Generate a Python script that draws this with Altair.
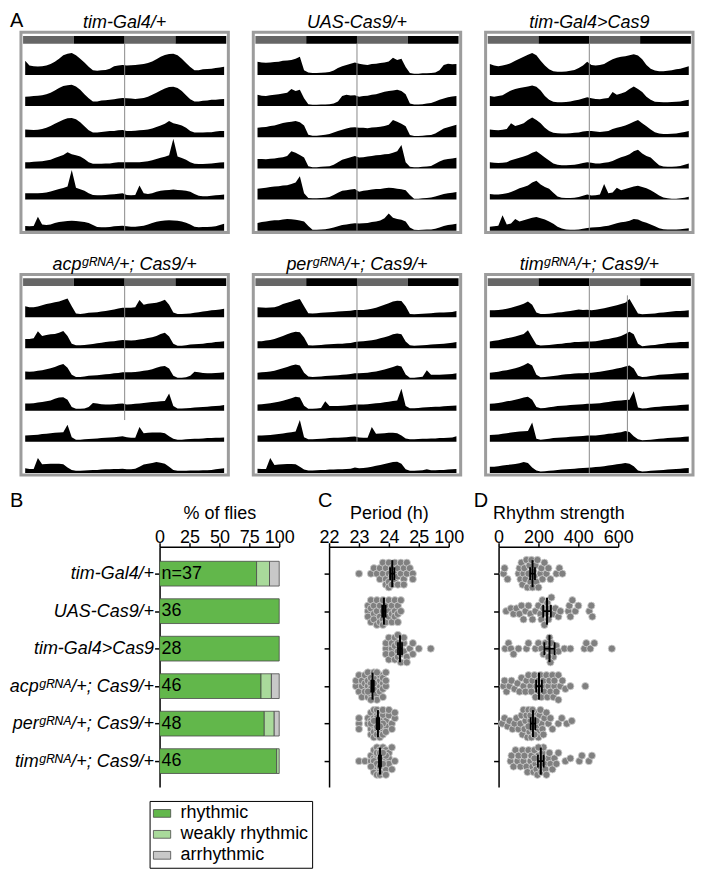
import json
import math
import pandas as pd
import altair as alt

FONT = "Liberation Sans"
SUP = "\u1d4d\u1d3f\u1d3a\u1d2c"  # superscript gRNA

genotypes = [
    "tim-Gal4/+",
    "UAS-Cas9/+",
    "tim-Gal4>Cas9",
    "acp" + SUP + "/+; Cas9/+",
    "per" + SUP + "/+; Cas9/+",
    "tim" + SUP + "/+; Cas9/+",
]

# ---------------- actogram activity (7 days x 24 h, 10 = one row height) ----------------
act_tim_gal4 = [
    [4.5, 3, 2.8, 2.7, 2.8, 3, 3.5, 4.2, 5.2, 6.3, 6.8, 7, 6.3, 5.2, 4, 2.6, 1.5, 1.3, 1.5, 1.6, 2, 2.8, 3, 3.2],
    [3, 3.1, 3.2, 3.3, 3.5, 3.8, 4.3, 5, 5.8, 6.4, 6.7, 6.8, 6.3, 5.2, 3.8, 2.5, 1.5, 1.5, 1.8, 1.9, 2, 2.2, 2.4, 2.6],
    [2.5, 2.4, 2.3, 2.4, 2.6, 3, 3.6, 4.3, 5, 5.6, 6.1, 6.2, 5.8, 4.8, 3.5, 2.2, 1.5, 1.5, 1.7, 1.8, 2, 2, 2.2, 2.3],
    [2, 2, 2.1, 2.2, 2.3, 2.5, 2.8, 3.3, 3.8, 4.3, 5.2, 4.5, 4.2, 3.8, 3, 2, 1.5, 1.5, 1.5, 1.6, 1.6, 1.8, 2, 2],
    [2, 2, 2, 2, 2.1, 2.3, 2.6, 3, 3.4, 3.7, 4.2, 9.5, 3.8, 3.3, 2.8, 2, 1.5, 1.4, 1.4, 1.5, 1.6, 1.7, 1.9, 2],
    [1.5, 1.4, 1.5, 4.5, 2, 1.8, 2, 2.5, 2.8, 3, 3.1, 3.2, 3.1, 3, 2.8, 2.5, 1.8, 1.2, 1.1, 1.1, 1.2, 1.4, 1.5, 1.6],
    [1.4, 1.3, 1.3, 1.4, 1.6, 2, 2.5, 2.9, 3.1, 3.3, 3.4, 3.3, 3.2, 3, 2.6, 2, 1.3, 1.1, 1.2, 1.2, 1.3, 1.4, 1.8, 2.2],
]
act_uas_cas9 = [
    [4.2, 4, 3.9, 4, 4.1, 4.2, 4.5, 4.6, 4.8, 5.2, 5.8, 1.5, 0.8, 0.6, 0.6, 0.7, 0.8, 0.9, 1.4, 2.2, 2.8, 3.2, 3.6, 4],
    [3.6, 3.3, 3.2, 3.5, 3.6, 3.8, 4, 4.3, 5.5, 4.8, 5.2, 2.5, 0.6, 0.4, 0.4, 0.5, 0.5, 0.6, 0.8, 1.5, 3.2, 3.6, 3.4, 3.5],
    [3, 3.2, 3.3, 3.6, 3.8, 4.2, 4.6, 4.8, 5, 5.2, 4.8, 3.8, 0.8, 0.5, 0.5, 0.6, 0.8, 1, 1.5, 2, 2.4, 2.8, 3.1, 3.2],
    [3, 3, 2.9, 3.1, 3.2, 3.4, 3.6, 4, 5.5, 5, 4.3, 3.5, 0.7, 0.4, 0.4, 0.5, 0.6, 0.7, 1.2, 2, 2.8, 3.2, 3.6, 4],
    [3.5, 3.6, 3.8, 4, 4.2, 4.3, 4.5, 4.6, 5, 5.5, 7.5, 2, 0.5, 0.4, 0.4, 0.5, 0.6, 0.8, 1.5, 2.2, 2.8, 3, 3.2, 3.4],
    [2.5, 2.8, 3, 3.2, 3.4, 3.4, 3.6, 3.8, 3.7, 3.5, 3.3, 3, 1.5, 0.3, 0.3, 0.4, 0.5, 0.7, 1, 1.4, 1.8, 2, 2.2, 2.4],
    [2.3, 2.4, 2.5, 2.8, 3, 3.3, 4, 5.5, 4.2, 3.8, 3.5, 3, 1, 0.3, 0.2, 0.3, 0.4, 0.4, 0.6, 1, 1.5, 1.8, 2, 2.2],
]
act_tim_gal4_cas9 = [
    [3.5, 3, 2.8, 3, 3.3, 3.8, 4.5, 5.2, 5.8, 6.5, 7, 6.3, 4.5, 3, 1.8, 1.2, 1, 1, 1.1, 1.3, 1.6, 2.2, 3, 4.2],
    [3.2, 3, 3.2, 3.5, 4.3, 5, 5.5, 5.8, 6, 6.3, 6.6, 6.2, 5, 3.2, 2, 1.4, 1.2, 1.2, 1.3, 1.5, 1.8, 2, 2.4, 2.8],
    [2.5, 2.3, 2.2, 2.4, 2.6, 4.5, 3.6, 4, 4.5, 5.5, 6.3, 5.5, 4.5, 3, 2, 1.4, 1.3, 1.2, 1.2, 1.3, 1.4, 1.5, 1.8, 2],
    [2, 1.8, 1.7, 1.8, 2, 2.6, 3, 3.4, 3.8, 4.3, 5, 5.5, 4.5, 3.5, 2.5, 1.6, 1.2, 1, 1, 1.1, 1.2, 1.4, 1.7, 2],
    [1.8, 1.6, 1.6, 1.8, 2, 2.4, 3, 3.6, 4, 4.5, 5.5, 6, 4.8, 4, 3.5, 2.2, 1, 0.6, 0.5, 0.5, 0.6, 0.8, 1.2, 1.6],
    [1.3, 1.4, 1.6, 5, 2, 2.3, 3.8, 3, 3.4, 3.8, 4.2, 4.4, 4, 3.6, 3, 2.2, 1.3, 0.7, 0.4, 0.3, 0.3, 0.4, 0.6, 0.9],
    [1, 1.1, 1.2, 1.4, 1.6, 2, 2.4, 2.7, 2.9, 3.2, 3.8, 3.6, 3, 2.6, 2, 1.4, 0.8, 0.5, 0.4, 0.4, 0.4, 0.5, 0.6, 0.8],
]
act_acp = [
    [3.5, 3.2, 3.2, 3.4, 3.8, 4.2, 4.5, 4.8, 5, 5.5, 6, 3.5, 1.2, 1, 1.2, 1.4, 1.5, 1.6, 1.8, 2, 2.2, 2.5, 2.8, 3],
    [3, 3, 3.2, 5.5, 4, 4.3, 4.5, 4.6, 5, 5.6, 4, 1.5, 1, 1, 1.1, 1.2, 1.4, 1.6, 1.8, 2, 2.2, 2.3, 2.5, 2.7],
    [2.6, 2.5, 2.6, 2.8, 3, 3.3, 3.6, 4, 4.6, 5, 3.8, 1.5, 0.8, 0.8, 1, 1.2, 1.3, 1.4, 1.5, 1.7, 1.8, 2, 2.1, 2.3],
    [2.3, 2.3, 2.4, 2.6, 2.8, 3, 3.3, 3.8, 4.2, 4.3, 3.5, 1.2, 0.6, 0.6, 0.7, 1.2, 2.5, 2.3, 2.1, 2, 2, 2.1, 2.2, 2.3],
    [2, 2.1, 2.2, 2.3, 2.5, 2.6, 2.8, 2.9, 3, 3.1, 5.5, 1.5, 0.7, 0.7, 0.8, 0.9, 1, 1.1, 1.2, 1.3, 1.4, 1.5, 1.6, 1.8],
    [1.5, 1.3, 1.3, 4.8, 2.8, 2.9, 3, 3, 3, 2.8, 1.8, 1, 0.7, 0.7, 0.8, 0.9, 1, 1, 1.1, 1.2, 1.2, 1.3, 1.3, 1.4],
    [1.2, 1.2, 1.4, 2, 2.7, 3, 3.2, 3.5, 3.3, 3, 2, 1, 0.7, 0.7, 0.7, 0.8, 0.8, 0.8, 0.9, 0.9, 1, 1.2, 1.4, 1.5],
]
act_per = [
    [3.2, 3.1, 3, 3.1, 3.2, 3.6, 4.2, 4.6, 5, 5.5, 5.8, 3.5, 1.3, 1.2, 1.3, 1.4, 1.5, 1.6, 1.7, 1.8, 1.9, 2, 2.1, 2.3],
    [2.3, 2.3, 2.5, 2.7, 3, 3.5, 4, 4.5, 5, 5.3, 5.2, 3.5, 1, 0.9, 1, 1.1, 1.2, 1.3, 1.4, 1.5, 1.5, 1.6, 1.7, 2],
    [2.2, 2.3, 2.4, 2.6, 2.8, 3.2, 3.6, 4, 4.5, 4.8, 4.5, 2.2, 1, 0.8, 0.9, 1, 1.1, 1.2, 1.3, 1.4, 1.5, 1.6, 1.8, 2],
    [2, 2.1, 2.2, 2.4, 2.6, 2.9, 3.2, 3.6, 4, 4.5, 4.2, 1.6, 0.6, 0.6, 0.7, 0.9, 3, 1.5, 1.5, 1.5, 1.6, 1.7, 1.8, 2],
    [2, 2, 2.1, 2.2, 2.4, 2.5, 2.7, 2.9, 3.1, 3.3, 7, 1.5, 0.8, 0.8, 0.9, 1, 1.1, 1.2, 1.3, 1.3, 1.4, 1.5, 1.6, 1.7],
    [1.4, 1.3, 1.3, 4.8, 2.6, 2.7, 2.8, 2.9, 2.9, 2.8, 2, 1.1, 0.8, 0.8, 0.9, 1, 1, 1.1, 1.1, 1.2, 1.2, 1.3, 1.4, 1.8],
    [1.5, 1.6, 1.8, 2, 2.3, 2.6, 2.9, 3.2, 3.5, 3.6, 3, 1.2, 0.7, 0.7, 0.8, 0.9, 1.2, 0.9, 0.9, 1, 1, 1.1, 1.2, 1.3],
]
act_tim = [
    [2.2, 2.2, 2.3, 2.5, 2.7, 3, 3.4, 3.8, 4.3, 5, 4, 1.5, 1, 1, 1.1, 1.3, 1.5, 1.6, 1.8, 2, 2.2, 2.5, 2.3, 2.4],
    [2.2, 2.4, 2.6, 2.9, 3.2, 3.5, 3.8, 4.2, 4.6, 5.8, 3.5, 1.2, 0.9, 1, 1.1, 1.2, 1.4, 1.5, 1.7, 1.8, 2, 2, 2.1, 2.2],
    [2.2, 2.3, 2.5, 2.8, 3, 3.3, 3.6, 4, 4.6, 5.3, 4.5, 1.5, 0.7, 0.8, 1, 1.1, 1.3, 1.5, 1.7, 1.8, 1.9, 2, 2, 2.1],
    [2.2, 2.3, 2.5, 2.7, 3, 3.2, 3.5, 3.8, 4.2, 4.5, 3.5, 1.2, 0.8, 0.9, 1.1, 1.3, 1.5, 1.6, 1.7, 1.8, 1.9, 2, 2.1, 2.2],
    [2.2, 2.3, 2.4, 2.6, 2.8, 3, 3.2, 3.3, 3.4, 3.5, 6.2, 1, 0.7, 0.8, 1, 1.2, 1.3, 1.4, 1.5, 1.6, 1.7, 1.8, 1.9, 2],
    [2, 2, 2.2, 2.4, 2.6, 2.7, 2.9, 3.1, 3.5, 3.2, 1.8, 0.8, 0.5, 0.6, 0.7, 0.8, 1, 1.1, 1.2, 1.3, 1.4, 1.5, 1.6, 1.7],
    [1.8, 1.9, 2, 2.2, 2.4, 2.6, 2.8, 3, 3.2, 3, 2.2, 0.8, 0.5, 0.6, 0.7, 0.8, 0.9, 1, 1.1, 1.2, 1.3, 1.4, 1.5, 1.6],
]
activity = [act_tim_gal4, act_uas_cas9, act_tim_gal4_cas9, act_acp, act_per, act_tim]

# light schedule bar (hours)
phase_start = [0, 12, 24, 36]
phase_end = [12, 24, 36, 48]
phase_kind = ["day", "night", "day", "night"]

# vertical day-boundary lines: hour, first row, last row
divider_hour = [[24], [24], [24], [24], [24], [24, 33]]
divider_from = [[0], [0], [0], [0], [0], [0, 0.3]]
divider_to = [[6], [6], [6], [4.3], [5], [6, 5]]

# ---------------- panel B ----------------
rhythmic = [30, 36, 28, 39, 42, 45]
weakly = [4, 0, 0, 4, 4, 1]
arrhythmic = [3, 0, 0, 3, 2, 0]
categories = ["rhythmic", "weakly rhythmic", "arrhythmic"]
cat_colors = ["#62b74b", "#a9da9b", "#c8c8c8"]

# ---------------- panel C: period (h) ----------------
period_tim_gal4 = [23.0, 23.4, 23.5, 23.6, 23.7, 23.7, 23.8, 23.8, 23.9, 23.9, 23.9, 24.0, 24.0, 24.0, 24.0,
                   24.1, 24.1, 24.1, 24.2, 24.2, 24.2, 24.3, 24.3, 24.3, 24.4, 24.4, 24.5, 24.5, 24.5,
                   24.6, 24.6, 24.7, 24.8, 24.8]
period_uas_cas9 = [23.3, 23.3, 23.3, 23.4, 23.4, 23.4, 23.5, 23.5, 23.5, 23.6, 23.6, 23.6, 23.7, 23.7, 23.7,
                   23.8, 23.8, 23.8, 23.8, 23.9, 23.9, 23.9, 24.0, 24.0, 24.0, 24.1, 24.1, 24.1, 24.2, 24.2,
                   24.2, 24.3, 24.3, 24.3, 24.4, 24.4]
period_tim_gal4_cas9 = [23.9, 23.9, 23.9, 24.0, 24.0, 24.1, 24.1, 24.1, 24.2, 24.2, 24.2, 24.3, 24.3, 24.3,
                        24.3, 24.4, 24.4, 24.4, 24.5, 24.5, 24.5, 24.6, 24.6, 24.7, 24.8, 24.8, 25.0, 25.4]
period_acp = [22.9, 22.9, 23.0, 23.0, 23.1, 23.1, 23.1, 23.2, 23.2, 23.2, 23.3, 23.3, 23.3, 23.3, 23.4, 23.4,
              23.4, 23.4, 23.5, 23.5, 23.5, 23.5, 23.5, 23.6, 23.6, 23.6, 23.6, 23.6, 23.7, 23.7, 23.7, 23.7,
              23.8, 23.8, 23.8, 23.8, 23.9, 23.9, 23.9, 23.4, 23.5, 23.6, 23.3]
period_per = [23.0, 23.0, 23.0, 23.3, 23.3, 23.4, 23.4, 23.4, 23.4, 23.5, 23.5, 23.5, 23.5, 23.5, 23.6, 23.6,
              23.6, 23.6, 23.6, 23.6, 23.7, 23.7, 23.7, 23.7, 23.7, 23.8, 23.8, 23.8, 23.8, 23.9, 23.9, 23.9,
              24.0, 24.0, 24.1, 24.1, 24.2, 24.2, 23.5, 23.6, 23.7, 23.4, 23.6, 23.8, 23.5, 23.7]
period_tim = [23.0, 23.2, 23.4, 23.4, 23.5, 23.5, 23.5, 23.5, 23.6, 23.6, 23.6, 23.6, 23.6, 23.6, 23.7, 23.7,
              23.7, 23.7, 23.7, 23.7, 23.7, 23.8, 23.8, 23.8, 23.8, 23.8, 23.8, 23.9, 23.9, 23.9, 23.9, 24.0,
              24.0, 24.0, 24.1, 24.1, 24.2, 23.5, 23.6, 23.7, 23.8, 23.6, 23.7, 23.9, 23.4, 23.8]
periods = [period_tim_gal4, period_uas_cas9, period_tim_gal4_cas9, period_acp, period_per, period_tim]

# ---------------- panel D: rhythm strength ----------------
strength_tim_gal4 = [25, 30, 45, 100, 105, 110, 115, 120, 125, 130, 135, 140, 145, 150, 155, 160, 165, 170,
                     175, 180, 185, 190, 195, 200, 210, 215, 220, 230, 240, 250, 260, 290, 305, 320]
strength_uas_cas9 = [38, 62, 75, 90, 105, 115, 125, 135, 150, 160, 170, 185, 200, 210, 215, 220, 225, 230,
                     240, 245, 250, 255, 265, 275, 285, 300, 310, 350, 355, 360, 370, 385, 400, 455, 465, 470]
strength_tim_gal4_cas9 = [33, 50, 62, 75, 100, 140, 150, 185, 200, 215, 225, 235, 245, 255, 265, 275, 290,
                          300, 330, 360, 430, 440, 460, 480, 568, 250, 260, 270]
strength_acp = [25, 30, 40, 55, 65, 80, 95, 105, 115, 125, 135, 140, 150, 160, 165, 170, 180, 185, 190, 200,
                205, 210, 215, 220, 225, 230, 240, 245, 250, 255, 260, 270, 275, 280, 290, 300, 310, 320,
                335, 360, 435, 280, 300]
strength_per = [18, 30, 45, 55, 70, 80, 90, 100, 110, 115, 120, 125, 130, 135, 140, 145, 150, 155, 160, 165,
                170, 175, 180, 185, 190, 195, 200, 205, 210, 215, 220, 225, 230, 240, 250, 260, 270, 300,
                317, 342, 367, 150, 160, 170, 180, 190]
strength_tim = [60, 65, 75, 85, 95, 100, 110, 120, 125, 130, 140, 145, 150, 160, 165, 170, 175, 180, 185, 190,
                195, 200, 205, 210, 215, 220, 225, 230, 235, 240, 250, 255, 260, 270, 280, 290, 300, 335, 360,
                405, 418, 453, 468, 180, 200, 220]
strengths = [strength_tim_gal4, strength_uas_cas9, strength_tim_gal4_cas9, strength_acp, strength_per, strength_tim]

# ======================= layout constants (styles) =======================
A_W, A_H = 208, 201
A_GAP = 25
P_W, P_H = 120, 241
GAP = 50
Y_DOM = [-0.72, 5.69]
ROW_PX = P_H / (Y_DOM[1] - Y_DOM[0])

# ======================= actograms =======================
xs = alt.Scale(domain=[-0.5, 48.5], nice=False, zero=False)
ys = alt.Scale(domain=[-0.37, 6.06], reverse=True, nice=False, zero=False)


def actogram(gi):
    g, days = genotypes[gi], activity[gi]
    act = []
    for r in range(6):
        seq = days[r] + days[r + 1]
        for h, a in enumerate(seq):
            act.append({"row": r, "x": h + 0.5, "y": r + 1 - a / 10.0, "y2": r + 1})
    bars = pd.DataFrame({"x": phase_start, "x2": phase_end,
                         "fill": ["#666666" if k == "day" else "#000000" for k in phase_kind]})
    bars["y"], bars["y2"] = -0.25, 0.0
    div = pd.DataFrame({"x": divider_hour[gi], "y": divider_from[gi], "y2": divider_to[gi]})

    area = alt.Chart(pd.DataFrame(act)).mark_area(color="black", interpolate="linear").encode(
        x=alt.X("x:Q", scale=xs, axis=None),
        y=alt.Y("y:Q", scale=ys, axis=None),
        y2="y2:Q",
        detail="row:N",
    )
    lightbar = alt.Chart(bars).mark_rect().encode(
        x=alt.X("x:Q", scale=xs, axis=None), x2="x2:Q",
        y=alt.Y("y:Q", scale=ys, axis=None), y2="y2:Q",
        color=alt.Color("fill:N", scale=None),
    )
    rules = alt.Chart(div).mark_rule(color="#8a8a8a", strokeWidth=1).encode(
        x=alt.X("x:Q", scale=xs, axis=None),
        y=alt.Y("y:Q", scale=ys, axis=None), y2="y2:Q",
    )
    title = alt.Chart(pd.DataFrame({"t": [g]})).mark_text(
        fontSize=18, fontStyle="italic", align="center", baseline="alphabetic", font=FONT).encode(
        x=alt.value(A_W / 2), y=alt.value(-4), text="t:N")
    layers = [area, lightbar, rules, title]
    if gi == 0:
        layers.append(alt.Chart(pd.DataFrame({"t": ["A"]})).mark_text(
            fontSize=20, align="left", baseline="alphabetic", font=FONT).encode(
            x=alt.value(-11), y=alt.value(-5), text="t:N"))
    return alt.layer(*layers).properties(
        width=A_W, height=A_H, view=alt.ViewBackground(stroke="#9c9c9c", strokeWidth=3))


row1 = alt.hconcat(actogram(0), actogram(1), actogram(2), spacing=A_GAP, bounds="flush")
row2 = alt.hconcat(actogram(3), actogram(4), actogram(5), spacing=A_GAP, bounds="flush")
actos = alt.vconcat(row1, row2, spacing=20)

# ======================= bottom panels =======================
yB = alt.Scale(domain=Y_DOM, reverse=True, nice=False, zero=False)
label_expr = json.dumps(genotypes, ensure_ascii=False) + "[datum.value]"
axYB = alt.Axis(values=list(range(6)), labelExpr=label_expr, title=None, tickSize=5, labelPadding=1,
                labelFontStyle="italic", domain=True)
axYN = alt.Axis(values=list(range(6)), labels=False, title=None, tickSize=5, domain=True)

seg = []
ntext = []
for i in range(6):
    counts = [rhythmic[i], weakly[i], arrhythmic[i]]
    n = sum(counts)
    c0 = 0.0
    for cat, cnt in zip(categories, counts):
        if cnt == 0:
            continue
        p = 100.0 * cnt / n
        seg.append({"idx": i, "cat": cat, "x0": c0, "x1": c0 + p, "ylo": i - 0.33, "yhi": i + 0.33})
        c0 += p
    ntext.append({"idx": i, "t": ("n=%d" % n) if i == 0 else str(n)})
seg_df = pd.DataFrame(seg)
ntext_df = pd.DataFrame(ntext)


def top_axis(values, title, expr):
    return alt.Axis(orient="top", values=values, title=title, tickSize=4, labelPadding=0,
                    labelBaseline="alphabetic", titlePadding=6, labelFlush=False, labelExpr=expr)


xB = alt.Scale(domain=[0, 100], nice=False, zero=False)
axXB = top_axis([0, 25, 50, 75, 100], "% of flies", "datum.label")
barsB = alt.Chart(seg_df).mark_rect(stroke="#4a4a4a", strokeWidth=0.8).encode(
    x=alt.X("x0:Q", scale=xB, axis=axXB),
    x2="x1:Q",
    y=alt.Y("ylo:Q", scale=yB, axis=axYB),
    y2="yhi:Q",
    color=alt.Color("cat:N", scale=alt.Scale(domain=categories, range=cat_colors),
                    legend=alt.Legend(title=None, orient="none", legendX=-10, legendY=255,
                                      direction="vertical", labelFontSize=18, labelFont=FONT,
                                      labelColor="black", symbolType="M-1,-0.45H1V0.45H-1Z",
                                      symbolSize=300, symbolStrokeColor="#4a4a4a", symbolStrokeWidth=0.8,
                                      symbolOpacity=1, strokeColor="black", fillColor="white",
                                      padding=3, rowPadding=2, labelOffset=9)),
)
textB = alt.Chart(ntext_df).mark_text(align="left", baseline="middle", dx=2, fontSize=18, font=FONT,
                                      color="black").encode(
    x=alt.value(0), y=alt.Y("idx:Q", scale=yB, axis=axYB), text="t:N")
letterB = alt.Chart(pd.DataFrame({"t": ["B"]})).mark_text(
    fontSize=20, align="left", baseline="alphabetic", font=FONT).encode(
    x=alt.value(-150), y=alt.value(-40), text="t:N")
panelB = alt.layer(barsB, textB, letterB).properties(width=P_W, height=P_H)

# invisible spacer so that panel B's plot starts where the reference puts it
spacer = alt.Chart(pd.DataFrame({"t": [""]})).mark_text(opacity=0).encode(
    x=alt.value(0), y=alt.value(0), text="t:N").properties(width=139 - GAP, height=P_H)


def swarm(values, px_per_unit, min_dist=5.5, step=2.75, kmax=5):
    order = sorted(range(len(values)), key=lambda i: values[i])
    cands = [0.0]
    for k in range(1, kmax + 1):
        cands += [-k * step, k * step]
    placed = []
    offs = [0.0] * len(values)
    for i in order:
        xp = values[i] * px_per_unit
        best, bestd = 0.0, -1.0
        for c in cands:
            d = min([math.hypot(xp - px, c - py) for px, py in placed] or [99.0])
            if d >= min_dist:
                best = c
                break
            if d > bestd + 1e-9:
                bestd, best = d, c
        offs[i] = best
        placed.append((xp, best))
    return offs


def dot_panel(series, dom, ticks, label_expr_x, title, px_per_unit, letter, letter_x):
    pts, stats, caps = [], [], []
    for i, vals in enumerate(series):
        offs = swarm(vals, px_per_unit)
        for v, o in zip(vals, offs):
            pts.append({"idx": i, "v": v, "yy": i + o / ROW_PX})
        n = len(vals)
        m = sum(vals) / n
        sd = math.sqrt(sum((v - m) ** 2 for v in vals) / (n - 1))
        se = sd / math.sqrt(n)
        stats.append({"idx": i, "mean": m, "lo": m - se, "hi": m + se, "t": i - 0.36, "b": i + 0.36})
        for cx in (m - se, m + se):
            caps.append({"cx": cx, "t": i - 0.17, "b": i + 0.17})
    pts_df, st_df, cap_df = pd.DataFrame(pts), pd.DataFrame(stats), pd.DataFrame(caps)
    xsc = alt.Scale(domain=dom, nice=False, zero=False)
    ax = top_axis(ticks, title, label_expr_x)
    p = alt.Chart(pts_df).mark_circle(size=52, fill="#808080", stroke="#d2d2d2", strokeWidth=0.8,
                                      opacity=1).encode(
        x=alt.X("v:Q", scale=xsc, axis=ax), y=alt.Y("yy:Q", scale=yB, axis=axYN))
    ml = alt.Chart(st_df).mark_rule(color="black", strokeWidth=2).encode(
        x=alt.X("mean:Q", scale=xsc, axis=ax), y=alt.Y("t:Q", scale=yB, axis=axYN), y2="b:Q")
    se_l = alt.Chart(st_df).mark_rule(color="black", strokeWidth=1.8).encode(
        x=alt.X("lo:Q", scale=xsc, axis=ax), x2="hi:Q", y=alt.Y("idx:Q", scale=yB, axis=axYN))
    cp = alt.Chart(cap_df).mark_rule(color="black", strokeWidth=1.8).encode(
        x=alt.X("cx:Q", scale=xsc, axis=ax), y=alt.Y("t:Q", scale=yB, axis=axYN), y2="b:Q")
    lt = alt.Chart(pd.DataFrame({"t": [letter]})).mark_text(
        fontSize=20, align="left", baseline="alphabetic", font=FONT).encode(
        x=alt.value(letter_x), y=alt.value(-40), text="t:N")
    return alt.layer(p, ml, se_l, cp, lt).properties(width=P_W, height=P_H)


panelC = dot_panel(periods, [22, 26], [22, 23, 24, 25, 26],
                   "datum.value == 26 ? '100' : datum.label", "Period (h)", P_W / 4.0, "C", -11)
panelD = dot_panel(strengths, [0, 600], [0, 200, 400, 600], "datum.label", "Rhythm strength",
                   P_W / 600.0, "D", -25)

bottom = alt.hconcat(spacer, panelB, panelC, panelD, spacing=GAP, bounds="flush").resolve_scale(
    color="independent").resolve_legend(color="independent")

chart = alt.vconcat(actos, bottom, spacing=14).resolve_scale(color="independent").resolve_legend(
    color="independent").properties(
    padding={"left": 0, "top": 0, "right": 0, "bottom": 0}
).configure(font=FONT).configure_view(stroke=None).configure_axis(
    labelFont=FONT, titleFont=FONT, labelFontSize=18, titleFontSize=18, titleFontWeight="normal",
    labelColor="black", titleColor="black", domainColor="black", tickColor="black",
    domainWidth=1.5, tickWidth=1.5, grid=False, labelOverlap=False,
)

chart.save("out.html", embed_options={"renderer": "svg", "actions": False})
